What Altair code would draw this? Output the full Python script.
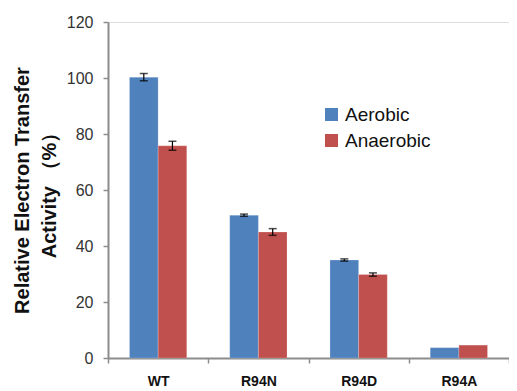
import altair as alt
import pandas as pd

categories = ["WT", "R94N", "R94D", "R94A"]
aerobic = [100.3, 51.0, 35.0, 3.7]
anaerobic = [75.8, 45.0, 29.8, 4.6]
aerobic_err = [1.3, 0.4, 0.4, 0.0]
anaerobic_err = [1.6, 1.2, 0.6, 0.0]
conditions = ["Aerobic", "Anaerobic"]
colors = ["#4F81BD", "#C0504D"]

rows = []
for i, c in enumerate(categories):
    rows.append({"cat": c, "cond": "Aerobic", "v": aerobic[i], "e": aerobic_err[i]})
    rows.append({"cat": c, "cond": "Anaerobic", "v": anaerobic[i], "e": anaerobic_err[i]})
df = pd.DataFrame(rows)
df["lo"] = df["v"] - df["e"]
df["hi"] = df["v"] + df["e"]
err_df = df[df["e"] > 0]

FONT = "Liberation Sans"
AX = "#8C8C8C"

xscale = alt.Scale(domain=categories, paddingInner=0, paddingOuter=0)
xoff = alt.XOffset("cond:N", scale=alt.Scale(domain=conditions, paddingInner=0, paddingOuter=0.75))
yscale = alt.Scale(domain=[0, 120], nice=False)

bars = alt.Chart(df).mark_bar(stroke="white", strokeWidth=0.5, strokeOpacity=0.4).encode(
    x=alt.X("cat:N", scale=xscale, sort=categories, title=None,
            axis=alt.Axis(labelAngle=0, tickBand="extent", labelFont=FONT, labelFontSize=14,
                          labelFontWeight="bold", labelColor="#111", labelPadding=11,
                          domainColor=AX, domainWidth=2, tickColor=AX, tickWidth=1.5, tickSize=5)),
    xOffset=xoff,
    y=alt.Y("v:Q", scale=yscale,
            title=["Relative Electron Transfer", "Activity （%）"],
            axis=alt.Axis(values=[0, 20, 40, 60, 80, 100, 120], grid=False,
                          labelFont=FONT, labelFontSize=16, labelColor="#333", labelPadding=10,
                          domainColor=AX, domainWidth=2, tickColor=AX, tickWidth=1.5, tickSize=5,
                          titleFont=FONT, titleFontSize=20, titleFontWeight="bold",
                          titleColor="#111", titleLineHeight=27, titlePadding=7)),
    color=alt.Color("cond:N", scale=alt.Scale(domain=conditions, range=colors),
                    legend=alt.Legend(title=None, orient="none", legendX=214, legendY=83,
                                      symbolType="square", symbolSize=170, symbolStrokeWidth=0,
                                      symbolOpacity=1, labelFont=FONT, labelFontSize=19,
                                      labelColor="#111", labelOffset=4, rowPadding=6)),
)

rules = alt.Chart(err_df).mark_rule(color="black", strokeWidth=1.2).encode(
    x=alt.X("cat:N", scale=xscale, sort=categories),
    xOffset=xoff,
    y=alt.Y("lo:Q", scale=yscale),
    y2="hi:Q",
)
caps_lo = alt.Chart(err_df).mark_tick(color="black", size=8, thickness=1.5).encode(
    x=alt.X("cat:N", scale=xscale, sort=categories),
    xOffset=xoff,
    y=alt.Y("lo:Q", scale=yscale),
)
caps_hi = alt.Chart(err_df).mark_tick(color="black", size=8, thickness=1.5).encode(
    x=alt.X("cat:N", scale=xscale, sort=categories),
    xOffset=xoff,
    y=alt.Y("hi:Q", scale=yscale),
)

chart = alt.layer(bars, rules, caps_lo, caps_hi).properties(
    width=401, height=336,
    autosize=alt.AutoSizeParams(type="none"),
    padding={"left": 100, "top": 14, "right": 0, "bottom": 30},
).configure_view(stroke=None).configure(background="white")

chart.save("out.html", embed_options={"renderer": "svg", "actions": False})
